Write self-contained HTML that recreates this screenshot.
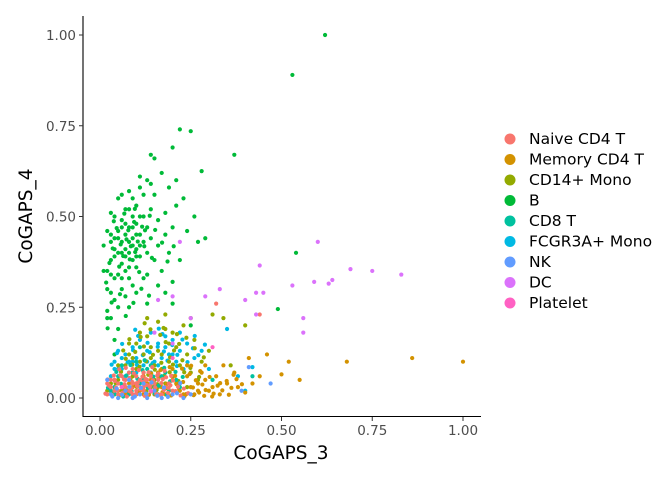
<!DOCTYPE html>
<html><head><meta charset="utf-8"><style>
body{margin:0;background:#fff}
svg{display:block;font-family:"DejaVu Sans","Liberation Sans",sans-serif}
</style></head><body>
<svg id="chart" width="672" height="480" viewBox="0 0 672 480" xmlns="http://www.w3.org/2000/svg">
<g id="points"></g>
<g id="axes"></g>
<g id="legend"></g>
</svg>
<script>
const categories=["Naive CD4 T","Memory CD4 T","CD14+ Mono","B","CD8 T","FCGR3A+ Mono","NK","DC","Platelet"];
const colors=["#F8766D","#D39200","#93AA00","#00BA38","#00C19F","#00B9E3","#619CFF","#DB72FB","#FF61C3"];
const xTicks=[0,0.25,0.5,0.75,1];
const xTickLabels=["0.00","0.25","0.50","0.75","1.00"];
const yTicks=[0,0.25,0.5,0.75,1];
const yTickLabels=["0.00","0.25","0.50","0.75","1.00"];
const bPoints=[0.01,0.42,0.02,0.35,0.02,0.3,0.03,0.45,0.03,0.22,0.03,0.38,0.04,0.5,0.04,0.27,0.04,0.33,0.05,0.4,0.05,0.46,0.05,0.55,0.05,0.19,0.06,0.43,0.06,0.37,0.06,0.49,0.06,0.3,0.07,0.41,0.07,0.52,0.07,0.45,0.07,0.35,0.08,0.47,0.08,0.4,0.08,0.57,0.08,0.25,0.08,0.43,0.09,0.5,0.09,0.38,0.09,0.44,0.09,0.31,0.1,0.48,0.1,0.41,0.1,0.53,0.1,0.36,0.11,0.45,0.11,0.58,0.11,0.39,0.12,0.5,0.12,0.43,0.12,0.33,0.13,0.47,0.13,0.6,0.13,0.4,0.14,0.52,0.14,0.44,0.15,0.56,0.15,0.38,0.16,0.49,0.16,0.42,0.17,0.62,0.17,0.35,0.18,0.51,0.18,0.45,0.19,0.58,0.19,0.4,0.2,0.47,0.21,0.53,0.22,0.38,0.23,0.55,0.24,0.46,0.26,0.5,0.27,0.43,0.29,0.44,0.03,0.51,0.04,0.41,0.05,0.34,0.06,0.56,0.07,0.28,0.08,0.36,0.09,0.55,0.1,0.29,0.11,0.5,0.12,0.56,0.13,0.34,0.14,0.59,0.02,0.46,0.06,0.47,0.07,0.39,0.09,0.42,0.1,0.45,0.05,0.44,0.08,0.52,0.04,0.39,0.06,0.33,0.03,0.34,0.02,0.24,0.04,0.16,0.05,0.25,0.16,0.31,0.18,0.29,0.2,0.32,0.21,0.6,0.15,0.66,0.11,0.61,0.2,0.26,0.25,0.2,0.13,0.26,0.01,0.35,0.03,0.29,0.62,1.0,0.53,0.89,0.22,0.74,0.25,0.735,0.14,0.67,0.37,0.67,0.2,0.69,0.28,0.625,0.54,0.4,0.49,0.245,0.04,0.44,0.07,0.48,0.09,0.47,0.11,0.42,0.08,0.33,0.06,0.4,0.02,0.22,0.04,0.12,0.03,0.43,0.1,0.39,
0.035,0.412,0.046,0.468,0.057,0.423,0.064,0.391,0.073,0.437,0.078,0.462,0.085,0.418,0.094,0.485,0.097,0.402,0.104,0.431,0.116,0.472,0.122,0.418,0.026,0.372,0.038,0.487,0.053,0.362,0.067,0.508,0.082,0.382,0.096,0.521,0.108,0.347,0.124,0.462,0.137,0.502,0.143,0.386,0.152,0.463,0.171,0.428,0.186,0.376,0.203,0.418,0.017,0.318,0.032,0.263,0.021,0.192,0.055,0.286,0.071,0.226,0.092,0.262,0.114,0.301,0.135,0.282];
const monoPoints=[0.05,0.05,0.07,0.09,0.08,0.12,0.09,0.06,0.1,0.15,0.11,0.1,0.12,0.07,0.13,0.17,0.14,0.11,0.15,0.05,0.16,0.13,0.17,0.08,0.18,0.19,0.19,0.1,0.2,0.06,0.21,0.14,0.22,0.09,0.23,0.2,0.24,0.12,0.25,0.07,0.26,0.16,0.27,0.05,0.28,0.1,0.3,0.13,0.13,0.22,0.16,0.21,0.12,0.03,0.06,0.02,0.1,0.04,0.14,0.03,0.18,0.04,0.08,0.15,0.11,0.18,0.15,0.09,0.19,0.15,0.2,0.18,0.17,0.12,0.09,0.11,0.22,0.04,0.24,0.03,0.03,0.04,0.04,0.01,0.07,0.03,0.1,0.08,0.14,0.14,0.16,0.06,0.36,0.09,0.4,0.2,0.34,0.22,0.31,0.23,0.12,0.12,0.18,0.23,0.25,0.22,0.02,0.02,0.05,0.09,
0.043,0.041,0.058,0.072,0.071,0.108,0.084,0.053,0.097,0.127,0.109,0.086,0.121,0.142,0.133,0.064,0.146,0.119,0.158,0.038,0.169,0.097,0.181,0.154,0.192,0.071,0.204,0.131,0.216,0.047,0.227,0.104,0.238,0.166,0.249,0.083,0.261,0.137,0.273,0.058,0.286,0.112,0.112,0.168,0.139,0.189,0.166,0.174,0.193,0.112,0.218,0.149,0.064,0.131,0.089,0.092,0.127,0.101,0.151,0.078,0.177,0.061,0.201,0.092,0.232,0.071,0.074,0.021,0.101,0.031,0.128,0.019,0.156,0.022,0.183,0.027,0.031,0.016,0.081,0.162,0.123,0.206,0.175,0.193,0.212,0.176];
const memPoints=[0.05,0.02,0.07,0.01,0.09,0.03,0.11,0.02,0.13,0.04,0.15,0.01,0.17,0.03,0.19,0.02,0.21,0.04,0.23,0.01,0.25,0.03,0.27,0.02,0.29,0.05,0.31,0.03,0.33,0.01,0.35,0.04,0.12,0.06,0.16,0.07,0.2,0.08,0.24,0.06,0.28,0.07,0.32,0.06,0.18,0.01,0.22,0.02,0.14,0.05,0.1,0.01,0.26,0.01,0.3,0.02,0.68,0.1,0.86,0.11,1.0,0.1,0.52,0.1,0.55,0.05,0.46,0.12,0.38,0.03,0.4,0.015,0.5,0.065,0.41,0.11,0.44,0.06,0.37,0.07,0.34,0.09,0.29,0.09,0.42,0.04,0.08,0.04,0.2,0.05,0.24,0.09,0.16,0.03,0.12,0.01,0.27,0.04,
0.052,0.006,0.066,0.027,0.079,0.012,0.093,0.036,0.106,0.018,0.121,0.047,0.135,0.009,0.148,0.031,0.161,0.054,0.172,0.016,0.184,0.039,0.196,0.007,0.207,0.061,0.218,0.025,0.229,0.044,0.238,0.011,0.247,0.066,0.256,0.029,0.264,0.049,0.273,0.015,0.282,0.037,0.291,0.022,0.302,0.058,0.313,0.012,0.324,0.034,0.337,0.021,0.349,0.047,0.362,0.028,0.376,0.052,0.391,0.038,0.226,0.081,0.251,0.089,0.276,0.074,0.141,0.068,0.167,0.077,0.192,0.085,0.118,0.024,0.211,0.038,0.233,0.005,0.258,0.008,0.287,0.006,0.309,0.004,0.331,0.041,0.355,0.009,0.368,0.064];
const naivePoints=[0.02,0.01,0.03,0.03,0.04,0.02,0.05,0.04,0.06,0.01,0.07,0.05,0.08,0.02,0.09,0.04,0.1,0.02,0.11,0.05,0.12,0.03,0.13,0.01,0.14,0.04,0.15,0.02,0.16,0.05,0.17,0.01,0.18,0.03,0.06,0.06,0.08,0.07,0.1,0.06,0.12,0.07,0.14,0.06,0.04,0.05,0.07,0.03,0.09,0.01,0.11,0.03,0.13,0.05,0.15,0.04,0.05,0.01,0.03,0.05,0.19,0.04,0.2,0.02,0.09,0.08,0.32,0.26,0.44,0.23,0.02,0.04,0.06,0.03,0.08,0.05,0.1,0.04,0.12,0.02,
0.015,0.012,0.025,0.034,0.033,0.008,0.041,0.047,0.048,0.021,0.056,0.063,0.062,0.015,0.068,0.038,0.074,0.004,0.081,0.055,0.087,0.027,0.093,0.068,0.099,0.011,0.104,0.042,0.111,0.024,0.117,0.059,0.123,0.006,0.128,0.036,0.134,0.071,0.141,0.018,0.146,0.049,0.152,0.029,0.158,0.062,0.163,0.009,0.169,0.041,0.176,0.022,0.182,0.057,0.187,0.014,0.194,0.035,0.201,0.048,0.208,0.019,0.215,0.031,0.222,0.007,0.231,0.026,0.243,0.013,0.038,0.062,0.053,0.079,0.071,0.083,0.089,0.044,0.107,0.077,0.126,0.052,0.144,0.085,0.161,0.067,0.178,0.075,0.196,0.061,0.021,0.051,0.044,0.029,0.066,0.051,0.085,0.017,0.102,0.033,0.119,0.045,0.137,0.031,0.155,0.011,0.173,0.052,0.189,0.028];
const cd8Points=[0.03,0.02,0.05,0.06,0.07,0.02,0.09,0.07,0.11,0.04,0.13,0.08,0.15,0.03,0.17,0.06,0.19,0.02,0.06,0.09,0.1,0.1,0.14,0.09,0.04,0.03,0.08,0.01,0.12,0.05,0.16,0.01,0.18,0.07,0.21,0.05,0.22,0.03,0.11,0.14,0.31,0.05,0.42,0.06,
0.022,0.028,0.041,0.011,0.058,0.039,0.073,0.062,0.087,0.019,0.103,0.053,0.117,0.077,0.132,0.028,0.147,0.059,0.162,0.034,0.177,0.083,0.193,0.046,0.208,0.072,0.045,0.072,0.084,0.091,0.123,0.104,0.064,0.004,0.151,0.012,0.184,0.009,0.228,0.058];
const fcgrPoints=[0.03,0.06,0.04,0.1,0.05,0.13,0.06,0.08,0.07,0.12,0.08,0.07,0.09,0.14,0.1,0.11,0.11,0.16,0.12,0.09,0.13,0.13,0.14,0.18,0.15,0.1,0.16,0.15,0.17,0.11,0.18,0.17,0.19,0.12,0.2,0.16,0.21,0.1,0.22,0.13,0.23,0.08,0.24,0.15,0.26,0.11,0.28,0.13,0.3,0.08,0.08,0.1,0.1,0.07,0.12,0.12,0.14,0.07,0.16,0.09,0.18,0.14,0.2,0.12,0.06,0.11,0.07,0.06,0.22,0.18,0.35,0.19,0.38,0.06,0.42,0.085,0.4,0.02,0.04,0.08,0.09,0.1,0.13,0.1,
0.032,0.092,0.047,0.124,0.061,0.149,0.076,0.098,0.091,0.132,0.105,0.171,0.118,0.118,0.131,0.152,0.145,0.096,0.159,0.141,0.172,0.176,0.186,0.103,0.199,0.146,0.213,0.119,0.227,0.161,0.241,0.099,0.256,0.137,0.271,0.118,0.289,0.147,0.102,0.091,0.137,0.126,0.176,0.128,0.051,0.081,0.212,0.088,0.162,0.191,0.097,0.188,0.261,0.171];
const nkPoints=[0.03,0.01,0.05,0.0,0.07,0.02,0.09,0.0,0.11,0.01,0.13,0.0,0.15,0.02,0.17,0.0,0.2,0.01,0.23,0.0,0.08,0.05,0.12,0.04,0.02,0.05,0.47,0.04,0.41,0.085,0.39,0.02,0.25,0.01,
0.034,0.004,0.061,0.009,0.096,0.004,0.127,0.012,0.158,0.006,0.187,0.003,0.212,0.013,0.046,0.026,0.113,0.028,0.142,0.043,0.176,0.029,0.221,0.041,0.081,0.031];
const dcPoints=[0.6,0.43,0.69,0.355,0.75,0.35,0.83,0.34,0.64,0.325,0.63,0.315,0.59,0.32,0.53,0.31,0.44,0.365,0.43,0.29,0.45,0.29,0.56,0.22,0.56,0.18,0.43,0.23,0.33,0.3,0.22,0.43,0.4,0.27,0.25,0.22,0.29,0.28,0.2,0.28,0.16,0.27,0.15,0.18,0.2,0.15];
const plateletPoints=[0.31,0.14,0.06,0.03,0.14,0.02,0.2,0.11];
const seriesPoints=[naivePoints,memPoints,monoPoints,bPoints,cd8Points,fcgrPoints,nkPoints,dcPoints,plateletPoints];
const drawOrder=[3,5,2,1,4,0,6,7,8];

const NS="http://www.w3.org/2000/svg";
const X0=100,X1=463,Y0=398,Y1=35;
function xScale(v){return X0+(X1-X0)*v;}
function yScale(v){return Y0-(Y0-Y1)*v;}
function mk(tag,attrs,parent){const e=document.createElementNS(NS,tag);for(const k in attrs)e.setAttribute(k,attrs[k]);parent.appendChild(e);return e;}

const pts=document.getElementById('points');
drawOrder.forEach(si=>{
  const arr=seriesPoints[si];
  for(let i=0;i<arr.length;i+=2){
    const c=mk('circle',{cx:xScale(arr[i]),cy:yScale(arr[i+1]),r:2.1,fill:colors[si]},pts);
    
    
  }
});

const ax=document.getElementById('axes');
let l=mk('line',{x1:83,y1:16,x2:83,y2:417,stroke:'#000','stroke-width':1.1},ax);


l=mk('line',{x1:82.5,y1:416.5,x2:481,y2:416.5,stroke:'#000','stroke-width':1.1},ax);


xTicks.forEach((v,i)=>{
  const x=xScale(v);
  const t=mk('line',{x1:x,y1:417,x2:x,y2:421,stroke:'#333'},ax);
  
  
  const tx=mk('text',{x:x,y:435,'text-anchor':'middle','font-size':13.5,fill:'#4d4d4d'},ax);
  tx.textContent=xTickLabels[i];
  
  
});
yTicks.forEach((v,i)=>{
  const y=yScale(v);
  const t=mk('line',{x1:79,y1:y,x2:83,y2:y,stroke:'#333'},ax);
  
  
  const tx=mk('text',{x:76,y:y+5,'text-anchor':'end','font-size':13.5,fill:'#4d4d4d'},ax);
  tx.textContent=yTickLabels[i];
  
  
});
let tt=mk('text',{x:281,y:459,'text-anchor':'middle','font-size':18.5,fill:'#000'},ax);
tt.textContent='CoGAPS_3';


tt=mk('text',{x:0,y:0,'text-anchor':'middle','font-size':18.5,fill:'#000',transform:'translate(32,216) rotate(-90)'},ax);
tt.textContent='CoGAPS_4';



const lg=document.getElementById('legend');
categories.forEach((c,i)=>{
  const y=139+i*20.5;
  const g=mk('g',{},lg);
  
  
  mk('circle',{cx:510,cy:y,r:5.5,fill:colors[i]},g);
  const t=mk('text',{x:529,y:y+5,'font-size':15.5,fill:'#000'},g);
  t.textContent=c;
});
</script>
</body></html>
